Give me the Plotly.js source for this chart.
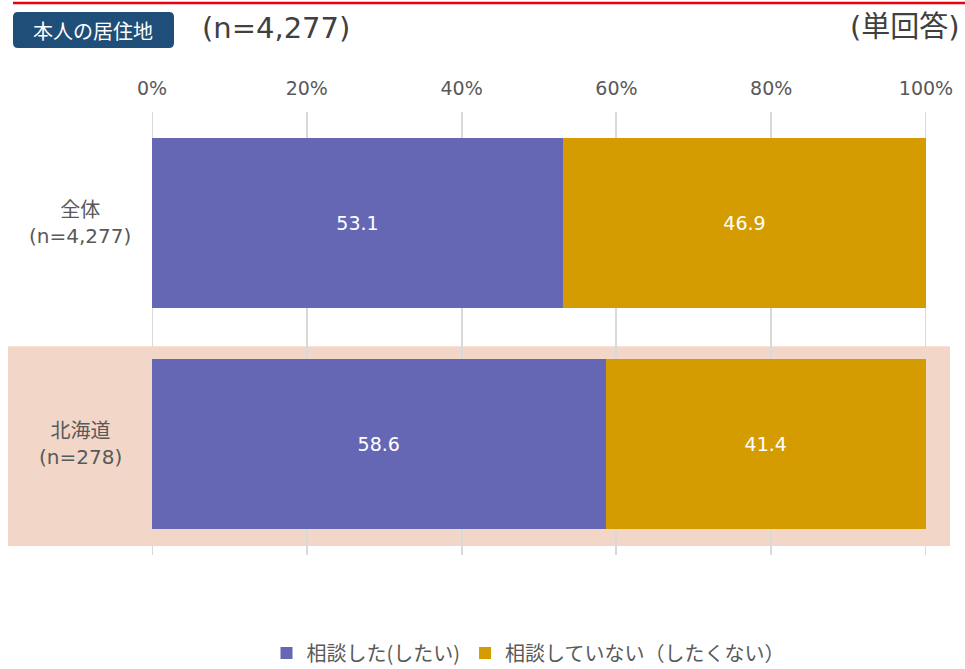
<!DOCTYPE html>
<html>
<head>
<meta charset="utf-8">
<script src="https://cdn.plot.ly/plotly-3.0.1.min.js"></script>
<style>html,body{margin:0;padding:0;background:#fff;}#chart{width:965px;height:669px;}</style>
</head>
<body>
<div id="chart"></div>
<script>
var categories = ["全体", "北海道"];
var categoryNotes = ["(n=4,277)", "(n=278)"];
var seriesNames = ["相談した(したい)", "相談していない（したくない）"];
var consulted = [53.1, 58.6];
var notConsulted = [46.9, 41.4];
var tickValues = [0, 20, 40, 60, 80, 100];
var tickLabels = ["0%", "20%", "40%", "60%", "80%", "100%"];
var colors = ["#6567b5", "#d49c00"];

var FONT = "'Noto Sans CJK JP', 'Noto Sans', sans-serif";
var NFONT = "'DejaVu Sans', 'Noto Sans CJK JP', sans-serif";
var W = 965, H = 669, L = 152, R = 39, T = 112, B = 114;
var pw = W - L - R, ph = H - T - B;
function px(x) { return (x - L) / pw; }
function py(y) { return (H - B - y) / ph; }

var traces = [consulted, notConsulted].map(function (vals, i) {
  return {
    type: "bar", orientation: "h", name: seriesNames[i],
    y: categories, x: vals,
    marker: { color: colors[i], line: { width: 0 } },
    text: vals.map(function (v) { return v.toFixed(1); }),
    textposition: "inside", insidetextanchor: "middle",
    textfont: { color: "#ffffff", size: 19, family: NFONT },
    hoverinfo: "none"
  };
});

var bx0 = 13, bx1 = 174, by0 = 12, by1 = 48, r = 5;
function P(x, y) { return px(x) + "," + py(y); }
var badgePath = "M" + P(bx0 + r, by0) + " L" + P(bx1 - r, by0) + " Q" + P(bx1, by0) + " " + P(bx1, by0 + r) +
  " L" + P(bx1, by1 - r) + " Q" + P(bx1, by1) + " " + P(bx1 - r, by1) +
  " L" + P(bx0 + r, by1) + " Q" + P(bx0, by1) + " " + P(bx0, by1 - r) +
  " L" + P(bx0, by0 + r) + " Q" + P(bx0, by0) + " " + P(bx0 + r, by0) + " Z";

var annotations = [
  { xref: "paper", yref: "paper", x: px(93), y: py(30), xanchor: "center", yanchor: "middle",
    text: "本人の居住地", showarrow: false, font: { size: 20, color: "#ffffff", family: FONT } },
  { xref: "paper", yref: "paper", x: px(200), y: py(28), xanchor: "left", yanchor: "middle",
    text: "(n=4,277)", showarrow: false, font: { size: 29, color: "#404040", family: NFONT } },
  { xref: "paper", yref: "paper", x: px(962), y: py(27), xanchor: "right", yanchor: "middle",
    text: "(単回答)", showarrow: false, font: { size: 29, color: "#404040", family: NFONT } }
];
categories.forEach(function (c, i) {
  annotations.push({
    xref: "paper", yref: "y", x: px(80), y: c, xanchor: "center", yanchor: "middle",
    align: "center", text: c + "<br>" + categoryNotes[i], showarrow: false,
    font: { size: 20, color: "#595959", family: NFONT }
  });
});

var shapes = [];
[tickValues[0], tickValues[tickValues.length - 1]].forEach(function (v) {
  shapes.push({ type: "line", layer: "between", xref: "x", yref: "paper",
    x0: v, x1: v, y0: 0, y1: 1, line: { color: "#d9d9d9", width: 2 } });
});
shapes.push(
  { type: "rect", layer: "between", xref: "paper", yref: "y",
    x0: px(8), x1: px(950), y0: 0.558, y1: 1.459,
    fillcolor: "#f2d6c7", line: { width: 0 } },
  { type: "line", xref: "paper", yref: "paper",
    x0: px(13), x1: px(965), y0: py(3), y1: py(3),
    line: { color: "#e60012", width: 2.5 } },
  { type: "path", xref: "paper", yref: "paper", path: badgePath,
    fillcolor: "#1f4e79", line: { width: 0 } }
);

var layout = {
  width: W, height: H,
  margin: { l: L, r: R, t: T, b: B, pad: 0, autoexpand: false },
  paper_bgcolor: "#ffffff", plot_bgcolor: "rgba(0,0,0,0)",
  barmode: "stack", bargap: 0.234,
  font: { family: FONT, color: "#595959" },
  showlegend: true,
  legend: {
    orientation: "h", x: px(528), xanchor: "center", y: py(653), yanchor: "middle",
    font: { size: 20, color: "#595959", family: FONT }, traceorder: "normal"
  },
  xaxis: {
    range: [0, 100], side: "top", tickvals: tickValues, ticktext: tickLabels,
    showgrid: true, gridcolor: "#d9d9d9", gridwidth: 2, zeroline: false,
    showline: false, ticks: "", ticklabelstandoff: 12,
    tickfont: { size: 19, color: "#595959", family: NFONT }, fixedrange: true
  },
  yaxis: {
    range: [1.5, -0.5], type: "category", autorange: false, categoryarray: categories,
    showgrid: false, zeroline: false, showline: false, ticks: "", showticklabels: false,
    fixedrange: true
  },
  shapes: shapes,
  annotations: annotations
};

Plotly.newPlot("chart", traces, layout, { displayModeBar: false, staticPlot: true });
</script>
</body>
</html>
